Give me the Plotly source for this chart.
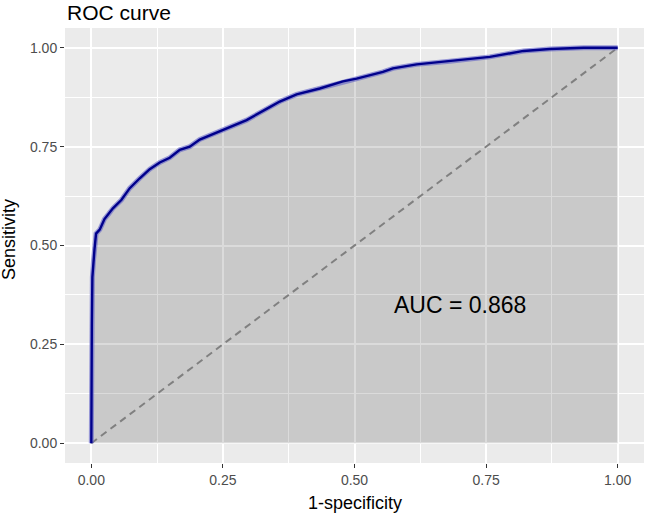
import plotly.graph_objects as go

# ROC curve points (false positive rate, true positive rate)
FPR = [0.0, 0.0, 0.001, 0.002, 0.004, 0.006, 0.009, 0.016, 0.025, 0.033, 0.041,
       0.057, 0.073, 0.092, 0.111, 0.130, 0.149, 0.168, 0.187, 0.206, 0.250,
       0.295, 0.339, 0.358, 0.390, 0.434, 0.478, 0.504, 0.554, 0.573, 0.618,
       0.681, 0.757, 0.821, 0.871, 0.935, 1.0]
TPR = [0.0, 0.10, 0.30, 0.42, 0.46, 0.49, 0.53, 0.54, 0.567, 0.58, 0.594,
       0.615, 0.645, 0.670, 0.693, 0.710, 0.722, 0.742, 0.750, 0.768, 0.792,
       0.817, 0.850, 0.864, 0.882, 0.897, 0.915, 0.922, 0.939, 0.948, 0.958,
       0.966, 0.977, 0.992, 0.997, 1.0, 1.0]
DIAG = [0.0, 1.0]
TICKS = [0.0, 0.25, 0.5, 0.75, 1.0]
TICK_TEXT = ["0.00", "0.25", "0.50", "0.75", "1.00"]
AUC_LABEL = "AUC = 0.868"

FONT = "Liberation Sans, Arial, Helvetica, sans-serif"
PANEL = "#EBEBEB"
W, H = 645, 514
ML, MR, MT, MB = 65, 1, 28, 51
PW, PH = W - ML - MR, H - MT - MB


def px_x(p):
    """Pixel column -> paper x (for text placed in the margins)."""
    return (p - ML) / PW


def px_y(p):
    """Pixel row -> paper y."""
    return (H - MB - p) / PH


fig = go.Figure()

# shaded area under the curve
fig.add_trace(go.Scatter(x=FPR, y=TPR, fill="tozeroy", mode="lines",
                         fillcolor="rgba(0,0,0,0.14)", line=dict(width=0),
                         hoverinfo="skip", showlegend=False))
# chance line
fig.add_trace(go.Scatter(x=DIAG, y=DIAG, mode="lines",
                         line=dict(color="#808080", width=2, dash="7px,5px"),
                         showlegend=False))
# soft halo + curve
fig.add_trace(go.Scatter(x=FPR, y=TPR, mode="lines",
                         line=dict(color="rgba(95,95,200,0.6)", width=5),
                         showlegend=False))
fig.add_trace(go.Scatter(x=FPR, y=TPR, mode="lines",
                         line=dict(color="#00008B", width=2.4),
                         showlegend=False))

fig.add_annotation(x=0.70, y=0.35, text=AUC_LABEL, showarrow=False,
                   font=dict(size=23, color="black", family=FONT))

# title and axis titles as margin text
fig.add_annotation(x=0, y=px_y(12), xref="paper", yref="paper",
                   xanchor="left", yanchor="middle", showarrow=False,
                   text="ROC curve", font=dict(size=21, color="black", family=FONT))
fig.add_annotation(x=0.5, y=px_y(503), xref="paper", yref="paper",
                   xanchor="center", yanchor="middle", showarrow=False,
                   text="1-specificity", font=dict(size=18, color="black", family=FONT))
fig.add_annotation(x=px_x(9), y=px_y(240), xref="paper", yref="paper",
                   xanchor="center", yanchor="middle", showarrow=False, textangle=-90,
                   text="Sensitivity", font=dict(size=18, color="black", family=FONT))

axis = dict(range=[-0.05, 1.05], tickvals=TICKS, ticktext=TICK_TEXT,
            showgrid=True, gridcolor="white", gridwidth=2, zeroline=False,
            ticks="outside", ticklen=4, tickwidth=1, tickcolor="#333333",
            tickfont=dict(size=14, color="#4D4D4D", family=FONT),
            showline=False, automargin=False,
            minor=dict(dtick=0.125, tick0=0, showgrid=True,
                       gridcolor="white", gridwidth=1, ticks=""))

fig.update_xaxes(**axis)
fig.update_yaxes(**axis)

fig.update_layout(
    width=W, height=H,
    paper_bgcolor="white", plot_bgcolor=PANEL,
    margin=dict(l=ML, r=MR, t=MT, b=MB, autoexpand=False),
    font=dict(family=FONT),
)

# drop the browser's default body margin so the figure sits at the page corner
fig.write_html("out.html", config={"displayModeBar": False},
               post_script="document.body.style.margin='0';")
